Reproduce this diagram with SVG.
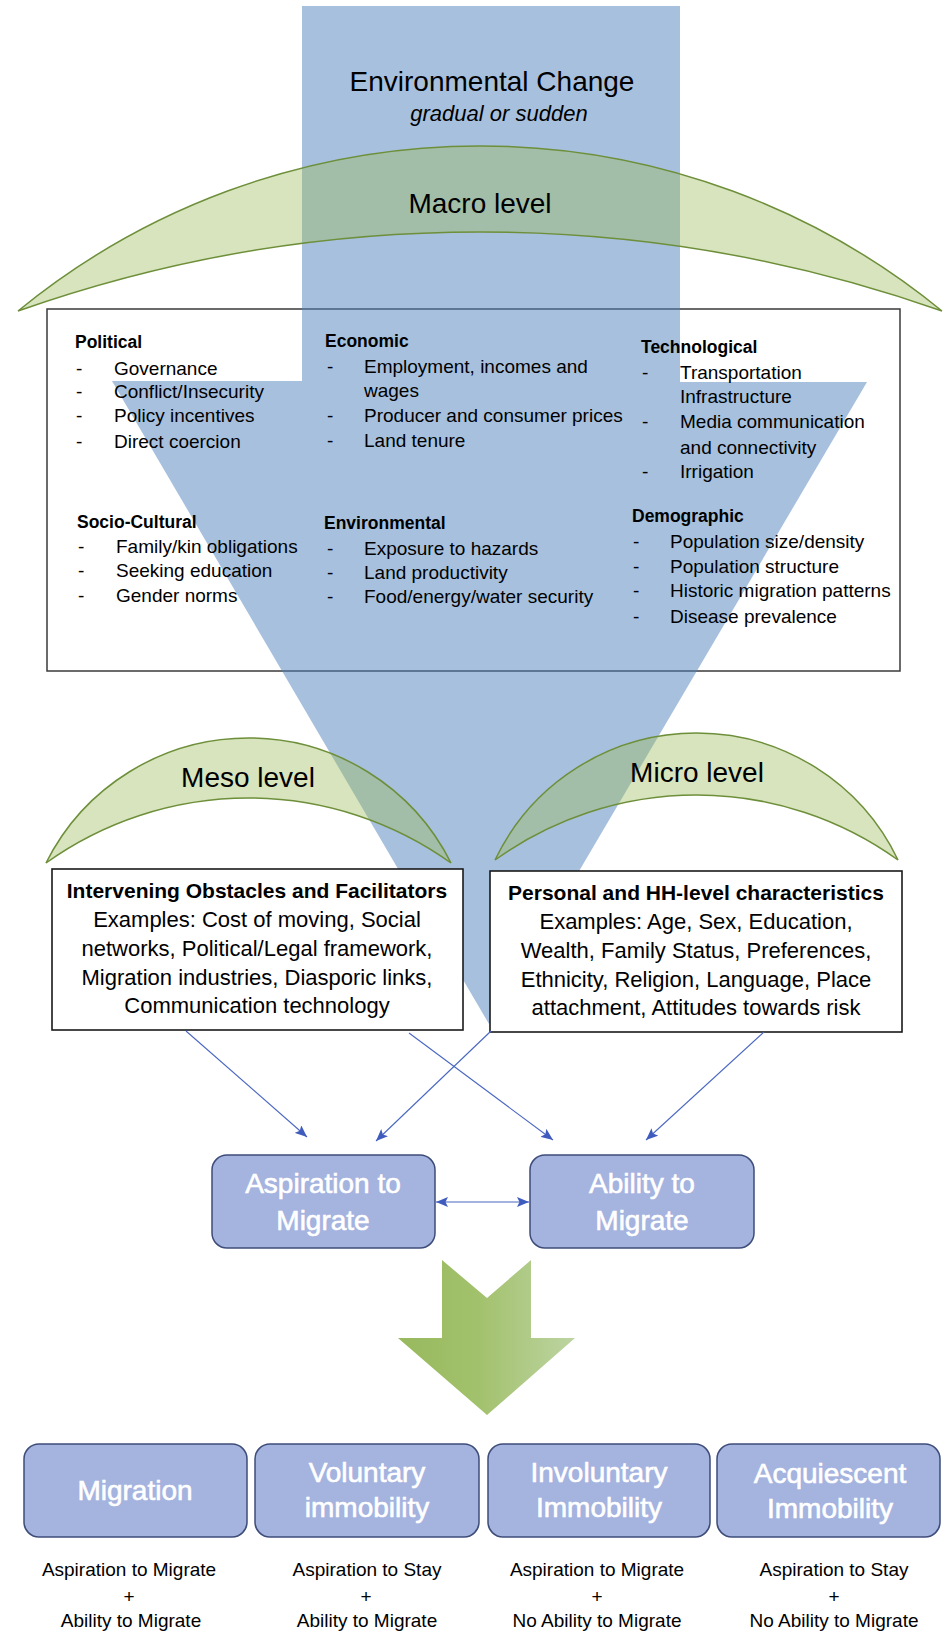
<svg xmlns="http://www.w3.org/2000/svg" width="948" height="1637" viewBox="0 0 948 1637">
<style>
text{font-family:"Liberation Sans",Arial,sans-serif;fill:#000}
.big{font-size:28px}
.hd{font-size:17.5px;font-weight:bold}
.it{font-size:19px}
.bh{font-size:21px;font-weight:bold}
.br{font-size:22px}
.wl{font-size:28px;fill:#fff;stroke:#fff;stroke-width:0.6}
.lb{font-size:19px}
.mid{text-anchor:middle}
.crescent{fill:#9BBB59;fill-opacity:0.4;stroke:#6E8F3A;stroke-width:1.5}
.node{fill:#A5B3DF;stroke:#3E4C7A;stroke-width:1.5}
.wbox{fill:#fff;stroke:#1a1a1a;stroke-width:1.6}
.conn{stroke:#4A67C2;stroke-width:1.1;fill:none}
</style>
<defs>
<marker id="ah" markerUnits="userSpaceOnUse" markerWidth="13" markerHeight="10" refX="12" refY="5" orient="auto">
<path d="M0,0 L12,5 L0,10 L2.5,5 z" fill="#3F5BBE"/>
</marker>
<marker id="ahs" markerUnits="userSpaceOnUse" markerWidth="13" markerHeight="10" refX="12" refY="5" orient="auto-start-reverse">
<path d="M0,0 L12,5 L0,10 L2.5,5 z" fill="#3F5BBE"/>
</marker>
<linearGradient id="gg" x1="0" y1="0" x2="1" y2="0">
<stop offset="0" stop-color="#98B95E"/>
<stop offset="0.45" stop-color="#A2C16C"/>
<stop offset="1" stop-color="#BDD4A2"/>
</linearGradient>
</defs>

<g id="macro-box">
<rect x="47" y="309" width="853" height="362" fill="none" stroke="#3a3a3a" stroke-width="1.5"/>
</g>

<g id="env-change-arrow">
<polygon points="302,6 680,6 680,382 867,382 489,1024 112,381 302,381" fill="#4F81BD" fill-opacity="0.5"/>
<text class="big mid" x="492" y="91">Environmental Change</text>
<text class="mid" x="499" y="121" style="font-size:22px;font-style:italic">gradual or sudden</text>
</g>

<g id="macro-level">
<path class="crescent" d="M18,311 A729,729 0 0 1 942,311 A1390,1390 0 0 0 18,311 z"/>
<text class="big mid" x="480" y="213">Macro level</text>
</g>

<g id="meso-level">
<path class="crescent" d="M46,863 A226.5,226.5 0 0 1 451,863 A348,348 0 0 0 46,863 z"/>
<text class="big mid" x="248" y="787">Meso level</text>
</g>

<g id="micro-level">
<path class="crescent" d="M495,860 A223.4,223.4 0 0 1 898,860 A344.8,344.8 0 0 0 495,860 z"/>
<text class="big mid" x="697" y="782">Micro level</text>
</g>

<g id="macro-factors">
<text class="hd" x="75" y="348">Political</text>
<text class="it" x="76" y="375">-</text><text class="it" x="114" y="375">Governance</text>
<text class="it" x="76" y="398">-</text><text class="it" x="114" y="398">Conflict/Insecurity</text>
<text class="it" x="76" y="422">-</text><text class="it" x="114" y="422">Policy incentives</text>
<text class="it" x="76" y="448">-</text><text class="it" x="114" y="448">Direct coercion</text>

<text class="hd" x="325" y="347">Economic</text>
<text class="it" x="327" y="373">-</text><text class="it" x="364" y="373">Employment, incomes and</text>
<text class="it" x="364" y="397">wages</text>
<text class="it" x="327" y="422">-</text><text class="it" x="364" y="422">Producer and consumer prices</text>
<text class="it" x="327" y="447">-</text><text class="it" x="364" y="447">Land tenure</text>

<text class="hd" x="641" y="353">Technological</text>
<text class="it" x="642" y="379">-</text><text class="it" x="680" y="379">Transportation</text>
<text class="it" x="680" y="403">Infrastructure</text>
<text class="it" x="642" y="428">-</text><text class="it" x="680" y="428">Media communication</text>
<text class="it" x="680" y="454">and connectivity</text>
<text class="it" x="642" y="478">-</text><text class="it" x="680" y="478">Irrigation</text>

<text class="hd" x="77" y="528">Socio-Cultural</text>
<text class="it" x="78" y="553">-</text><text class="it" x="116" y="553">Family/kin obligations</text>
<text class="it" x="78" y="577">-</text><text class="it" x="116" y="577">Seeking education</text>
<text class="it" x="78" y="602">-</text><text class="it" x="116" y="602">Gender norms</text>

<text class="hd" x="324" y="529">Environmental</text>
<text class="it" x="327" y="555">-</text><text class="it" x="364" y="555">Exposure to hazards</text>
<text class="it" x="327" y="579">-</text><text class="it" x="364" y="579">Land productivity</text>
<text class="it" x="327" y="603">-</text><text class="it" x="364" y="603">Food/energy/water security</text>

<text class="hd" x="632" y="522">Demographic</text>
<text class="it" x="633" y="548">-</text><text class="it" x="670" y="548">Population size/density</text>
<text class="it" x="633" y="573">-</text><text class="it" x="670" y="573">Population structure</text>
<text class="it" x="633" y="597">-</text><text class="it" x="670" y="597">Historic migration patterns</text>
<text class="it" x="633" y="623">-</text><text class="it" x="670" y="623">Disease prevalence</text>
</g>

<g id="meso-box">
<rect class="wbox" x="52" y="869" width="411" height="161"/>
<text class="bh mid" x="257" y="898">Intervening Obstacles and Facilitators</text>
<text class="br mid" x="257" y="927">Examples: Cost of moving, Social</text>
<text class="br mid" x="257" y="956">networks, Political/Legal framework,</text>
<text class="br mid" x="257" y="985">Migration industries, Diasporic links,</text>
<text class="br mid" x="257" y="1013">Communication technology</text>
</g>

<g id="micro-box">
<rect class="wbox" x="490" y="871" width="412" height="161"/>
<text class="bh mid" x="696" y="900">Personal and HH-level characteristics</text>
<text class="br mid" x="696" y="929">Examples: Age, Sex, Education,</text>
<text class="br mid" x="696" y="958">Wealth, Family Status, Preferences,</text>
<text class="br mid" x="696" y="987">Ethnicity, Religion, Language, Place</text>
<text class="br mid" x="696" y="1015">attachment, Attitudes towards risk</text>
</g>

<g id="connectors">
<line class="conn" x1="186" y1="1031" x2="307" y2="1137" marker-end="url(#ah)"/>
<line class="conn" x1="491" y1="1031" x2="376" y2="1141" marker-end="url(#ah)"/>
<line class="conn" x1="409" y1="1033" x2="553" y2="1140" marker-end="url(#ah)"/>
<line class="conn" x1="764" y1="1032" x2="646" y2="1140" marker-end="url(#ah)"/>
<line class="conn" x1="436" y1="1202" x2="529" y2="1202" marker-start="url(#ahs)" marker-end="url(#ah)"/>
</g>

<g id="aspiration">
<rect class="node" x="212" y="1155" width="223" height="93" rx="15"/>
<text class="wl mid" x="323" y="1193">Aspiration to</text>
<text class="wl mid" x="323" y="1230">Migrate</text>
</g>

<g id="ability">
<rect class="node" x="530" y="1155" width="224" height="93" rx="15"/>
<text class="wl mid" x="642" y="1193">Ability to</text>
<text class="wl mid" x="642" y="1230">Migrate</text>
</g>

<g id="outcome-arrow">
<polygon points="442,1260 487,1298 531,1260 531,1338 575,1338 487,1415 398,1338 442,1338" fill="url(#gg)"/>
</g>

<g id="migration">
<rect class="node" x="24" y="1444" width="223" height="93" rx="15"/>
<text class="wl mid" x="135" y="1500">Migration</text>
<text class="lb mid" x="129" y="1576">Aspiration to Migrate</text>
<text class="lb mid" x="129" y="1603">+</text>
<text class="lb mid" x="131" y="1627">Ability to Migrate</text>
</g>

<g id="voluntary-immobility">
<rect class="node" x="255" y="1444" width="224" height="93" rx="15"/>
<text class="wl mid" x="367" y="1482">Voluntary</text>
<text class="wl mid" x="367" y="1517">immobility</text>
<text class="lb mid" x="367" y="1576">Aspiration to Stay</text>
<text class="lb mid" x="366" y="1603">+</text>
<text class="lb mid" x="367" y="1627">Ability to Migrate</text>
</g>

<g id="involuntary-immobility">
<rect class="node" x="488" y="1444" width="222" height="93" rx="15"/>
<text class="wl mid" x="599" y="1482">Involuntary</text>
<text class="wl mid" x="599" y="1517">Immobility</text>
<text class="lb mid" x="597" y="1576">Aspiration to Migrate</text>
<text class="lb mid" x="597" y="1603">+</text>
<text class="lb mid" x="597" y="1627">No Ability to Migrate</text>
</g>

<g id="acquiescent-immobility">
<rect class="node" x="717" y="1444" width="223" height="93" rx="15"/>
<text class="wl mid" x="830" y="1483">Acquiescent</text>
<text class="wl mid" x="830" y="1518">Immobility</text>
<text class="lb mid" x="834" y="1576">Aspiration to Stay</text>
<text class="lb mid" x="834" y="1603">+</text>
<text class="lb mid" x="834" y="1627">No Ability to Migrate</text>
</g>
</svg>
